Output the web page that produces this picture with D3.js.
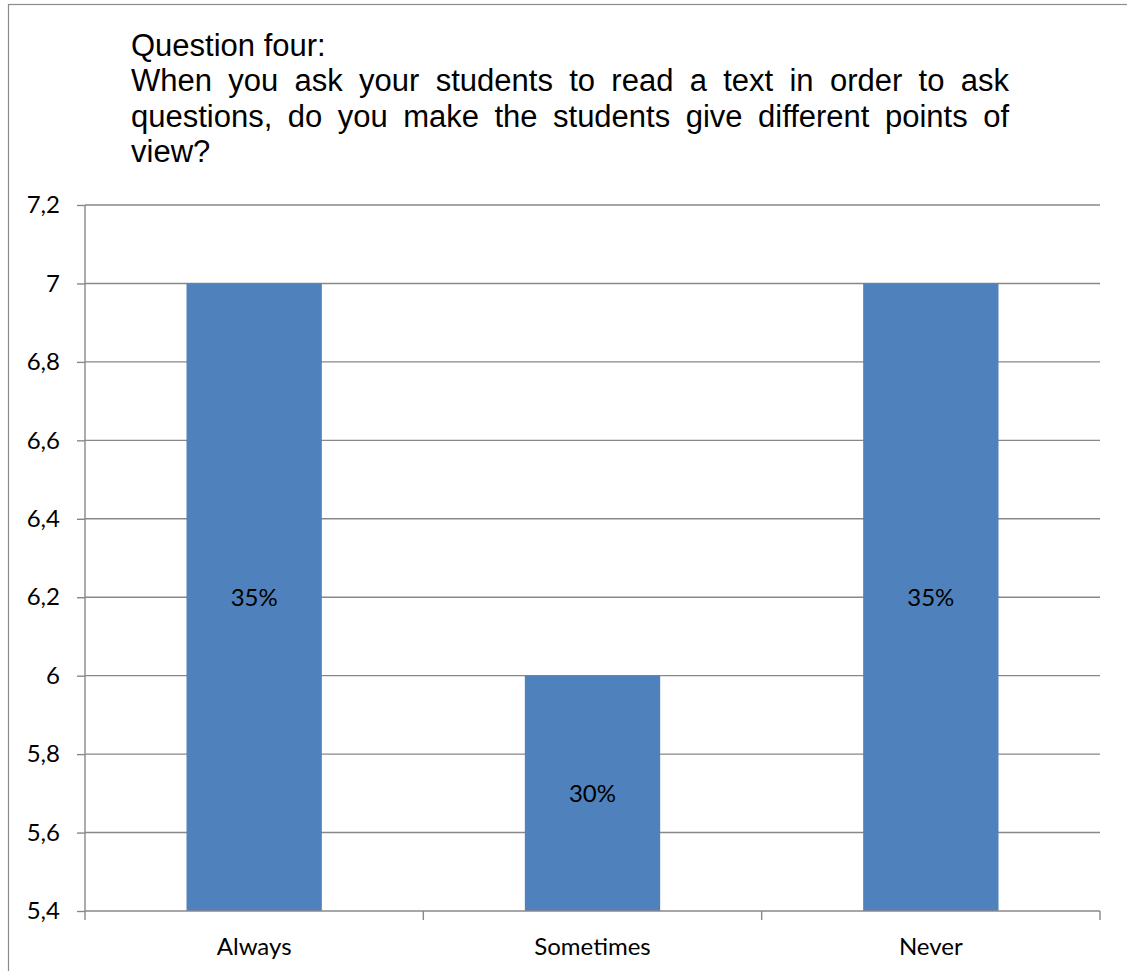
<!DOCTYPE html>
<html>
<head>
<meta charset="utf-8">
<script src="https://cdn.jsdelivr.net/npm/d3@7/dist/d3.min.js"></script>
<style>
  html, body { margin: 0; padding: 0; background: #fff; }
  svg { display: block; }
</style>
</head>
<body>
<script>
// Survey answers: number of teachers per response
const categories = ["Always", "Sometimes", "Never"];
const counts = [7, 6, 7];
const yTicks = [5.4, 5.6, 5.8, 6, 6.2, 6.4, 6.6, 6.8, 7, 7.2];
const titleLines = [
  "Question four:",
  "When you ask your students to read a text in order to ask",
  "questions, do you make the students give different points of",
  "view?"
];

const W = 1127, H = 971;
const plot = { left: 85, right: 1100, top: 205, bottom: 911 };
const total = d3.sum(counts);

const svg = d3.select("body").append("svg")
  .attr("width", W).attr("height", H);

// outer chart frame
svg.append("rect")
  .attr("x", 8.5).attr("y", 4.5)
  .attr("width", W + 20).attr("height", H + 20)
  .attr("fill", "#fff").attr("stroke", "#8c8c8c").attr("stroke-width", 1.2);

const x = d3.scaleBand()
  .domain(categories)
  .range([plot.left, plot.right])
  .paddingInner(0.6).paddingOuter(0.3);

const y = d3.scaleLinear()
  .domain([5.4, 7.2])
  .range([plot.bottom, plot.top]);

const gridColor = "#888888";
const labelFont = "Lato, 'Open Sans', sans-serif";

// horizontal gridlines
svg.append("g")
  .selectAll("line")
  .data(yTicks.slice(1))
  .join("line")
  .attr("x1", plot.left).attr("x2", plot.right)
  .attr("y1", d => y(d)).attr("y2", d => y(d))
  .attr("stroke", gridColor).attr("stroke-width", 1.4);

// bars
svg.append("g")
  .selectAll("rect")
  .data(categories)
  .join("rect")
  .attr("x", d => x(d))
  .attr("width", x.bandwidth())
  .attr("y", (d, i) => y(counts[i]))
  .attr("height", (d, i) => y(5.4) - y(counts[i]))
  .attr("fill", "#4f81bd");

// value labels: share of all answers
svg.append("g")
  .selectAll("text")
  .data(categories)
  .join("text")
  .attr("x", d => x(d) + x.bandwidth() / 2)
  .attr("y", (d, i) => (y(counts[i]) + y(5.4)) / 2)
  .attr("dy", "0.35em")
  .attr("text-anchor", "middle")
  .attr("font-family", labelFont)
  .attr("font-size", 24)
  .attr("fill", "#000")
  .text((d, i) => d3.format(".0%")(counts[i] / total));

// y axis
const yAxis = d3.axisLeft(y)
  .tickValues(yTicks)
  .tickSize(8)
  .tickPadding(17)
  .tickFormat(d => d3.format(".1~f")(d).replace(".", ","));
const gy = svg.append("g")
  .attr("transform", `translate(${plot.left},0)`)
  .call(yAxis);
gy.select(".domain").attr("stroke", gridColor).attr("stroke-width", 1.4)
  .attr("d", `M0,${plot.top}V${plot.bottom}`);
gy.selectAll(".tick line").attr("stroke", gridColor).attr("stroke-width", 1.4);
gy.selectAll(".tick text")
  .attr("font-family", labelFont).attr("font-size", 24).attr("fill", "#000");

// x axis with ticks at category boundaries
const gx = svg.append("g")
  .attr("transform", `translate(0,${plot.bottom})`);
gx.append("line")
  .attr("x1", plot.left).attr("x2", plot.right)
  .attr("stroke", gridColor).attr("stroke-width", 1.4);
const step = x.step();
const bounds = d3.range(categories.length + 1).map(i => plot.left + i * (plot.right - plot.left) / categories.length);
gx.selectAll(".bt")
  .data(bounds)
  .join("line")
  .attr("x1", d => d).attr("x2", d => d)
  .attr("y1", 0).attr("y2", 9)
  .attr("stroke", gridColor).attr("stroke-width", 1.4);
gx.selectAll(".cat")
  .data(categories)
  .join("text")
  .attr("x", d => x(d) + x.bandwidth() / 2)
  .attr("y", 44)
  .attr("text-anchor", "middle")
  .attr("font-family", labelFont)
  .attr("font-size", 24)
  .attr("fill", "#000")
  .text(d => d);

// title, justified between the left and right text margins
const tLeft = 131, tRight = 1009, tTop = 55.5, tLead = 35.5;
const title = svg.append("g")
  .attr("font-family", "'Liberation Sans', Arial, sans-serif")
  .attr("font-size", 31)
  .attr("fill", "#000");
titleLines.forEach((line, li) => {
  const yy = tTop + li * tLead;
  const justify = li === 1 || li === 2;
  if (!justify) {
    title.append("text").attr("x", tLeft).attr("y", yy).text(line);
    return;
  }
  const words = line.split(" ");
  const nodes = words.map(w => title.append("text").attr("y", yy).text(w));
  const widths = nodes.map(n => n.node().getComputedTextLength());
  const gap = (tRight - tLeft - d3.sum(widths)) / (words.length - 1);
  let cx = tLeft;
  nodes.forEach((n, i) => { n.attr("x", cx); cx += widths[i] + gap; });
});
</script>
</body>
</html>
